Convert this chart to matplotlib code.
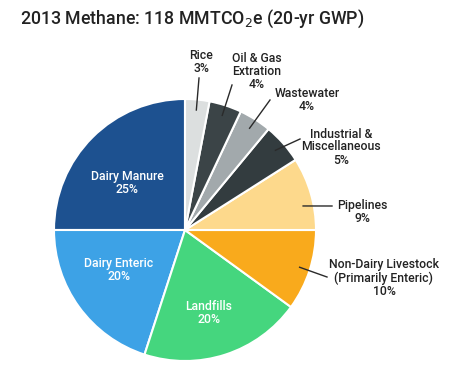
import matplotlib.pyplot as plt
import numpy as np

# Fatias do gráfico (ordem anti-horária a partir das 12h)
categorias = ['Dairy Manure', 'Dairy Enteric', 'Landfills',
              'Non-Dairy Livestock\n(Primarily Enteric)', 'Pipelines',
              'Industrial &\nMiscellaneous', 'Wastewater',
              'Oil & Gas\nExtration', 'Rice']
valores = [25, 20, 20, 10, 9, 5, 4, 4, 3]
cores = ['#1d5190', '#3da2e6', '#45d67e', '#f9aa1c', '#fdd98c',
         '#333c3f', '#a2a9ac', '#3b4447', '#dcdfdf']

plt.rcParams['font.family'] = ['Roboto', 'DejaVu Sans']

fig = plt.figure(figsize=(4.5, 3.75), dpi=100)
ax = fig.add_axes([0, 0, 1, 1])

cx, cy, R = 185, 145, 131
wedges, _ = ax.pie(valores, colors=cores, startangle=90, counterclock=True,
                   center=(cx, cy), radius=R, frame=True,
                   wedgeprops=dict(edgecolor='white', linewidth=1.5))
ax.set_xlim(0, 450)
ax.set_ylim(0, 375)
ax.set_aspect('equal')
ax.axis('off')

fig.text(0.045, 0.95, '2013 Methane: 118 MMTCO$_2$e (20-yr GWP)',
         fontsize=12.8, color='#222222', va='center', ha='left',
         fontweight='medium')

# rótulos internos (brancos): raio relativo, desvio de ângulo
dentro = {0: (0.57, 6), 1: (0.59, -5), 2: (0.66, -2)}
for i, (r, d) in dentro.items():
    w = wedges[i]
    ang = np.deg2rad((w.theta1 + w.theta2) / 2 + d)
    x = cx + R * r * np.cos(ang)
    y = cy + R * r * np.sin(ang)
    ax.text(x, y, f'{categorias[i]}\n{valores[i]}%', color='white',
            fontsize=8.8, fontweight='medium', ha='center', va='center',
            linespacing=1.0)

# rótulos externos: (fim da linha), (posição do texto), desvio de ângulo
fora = {
    8: ((199, 297), (201, 300), 0),
    7: ((232, 290), (257, 284), 0),
    6: ((270, 275), (307, 262), 0),
    5: ((300, 236), (341, 228), 0),
    4: ((332, 169), (362, 163), -4.7),
    3: ((327, 98), (384, 97), 0),
}
for i, ((lx, ly), (tx, ty), d) in fora.items():
    w = wedges[i]
    ang = np.deg2rad((w.theta1 + w.theta2) / 2 + d)
    x0 = cx + R * 0.92 * np.cos(ang)
    y0 = cy + R * 0.92 * np.sin(ang)
    ax.plot([x0, lx], [y0, ly], color='#2a2a2a', lw=1.0)
    va = 'bottom' if i in (6, 7, 8) else 'center'
    ax.text(tx, ty, f'{categorias[i]}\n{valores[i]}%', color='#222222',
            fontsize=8.8, fontweight='medium', ha='center', va=va,
            linespacing=1.0)

fig.savefig('out.png', dpi=100)
